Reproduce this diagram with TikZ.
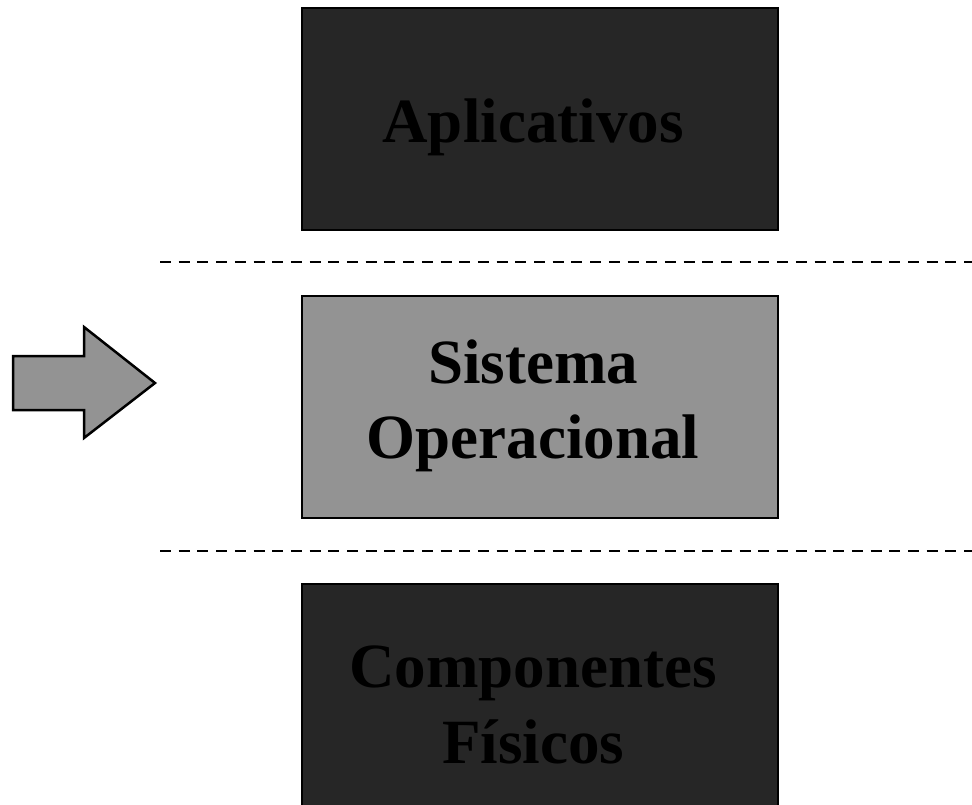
\documentclass[tikz,border=0pt]{standalone}
\usepackage{fontspec}
\setmainfont{Liberation Serif}
\usetikzlibrary{calc}
\definecolor{escuro}{RGB}{38,38,38}
\definecolor{cinza}{RGB}{147,147,147}

\begin{document}
\begin{tikzpicture}[x=1pt,y=1pt]
  \tikzstyle{camada}=[draw=black, line width=2.5pt, minimum width=476pt, minimum height=222pt, inner sep=0pt]
  \tikzstyle{rotulo}=[inner sep=0pt, anchor=base, font=\fontsize{63}{75}\selectfont\bfseries, text=black]
  \tikzstyle{divisao}=[black, line width=2.8pt, dash pattern=on 11pt off 7.7pt]
  \useasboundingbox (0,0) rectangle (972,-804);
  % camadas
  \node[camada, fill=escuro] (apl) at (540,-119) {};
  \node[camada, fill=cinza] (so) at (540,-407) {};
  \node[camada, fill=escuro] (hw) at (540,-695) {};
  \node[rotulo] (tapl) at (533,-142) {Aplicativos};
  \node[rotulo] (tso1) at (533,-383) {Sistema};
  \node[rotulo] (tso2) at (533,-458) {Operacional};
  \node[rotulo] (thw1) at (533,-687) {Componentes};
  \node[rotulo] (thw2) at (533,-763) {Físicos};
  % divisoes
  \coordinate (d1a) at (160,-262);
  \coordinate (d1b) at (972,-262);
  \coordinate (d2a) at (160,-551);
  \coordinate (d2b) at (972,-551);
  \draw[divisao] (d1a) -- (d1b);
  \draw[divisao] (d2a) -- (d2b);
  % seta
  \draw[line width=2.5pt, fill=cinza] (13,-356) -- (84,-356) -- (84,-327) -- (155,-383) -- (84,-438) -- (84,-410) -- (13,-410) -- cycle;
\end{tikzpicture}
\end{document}
